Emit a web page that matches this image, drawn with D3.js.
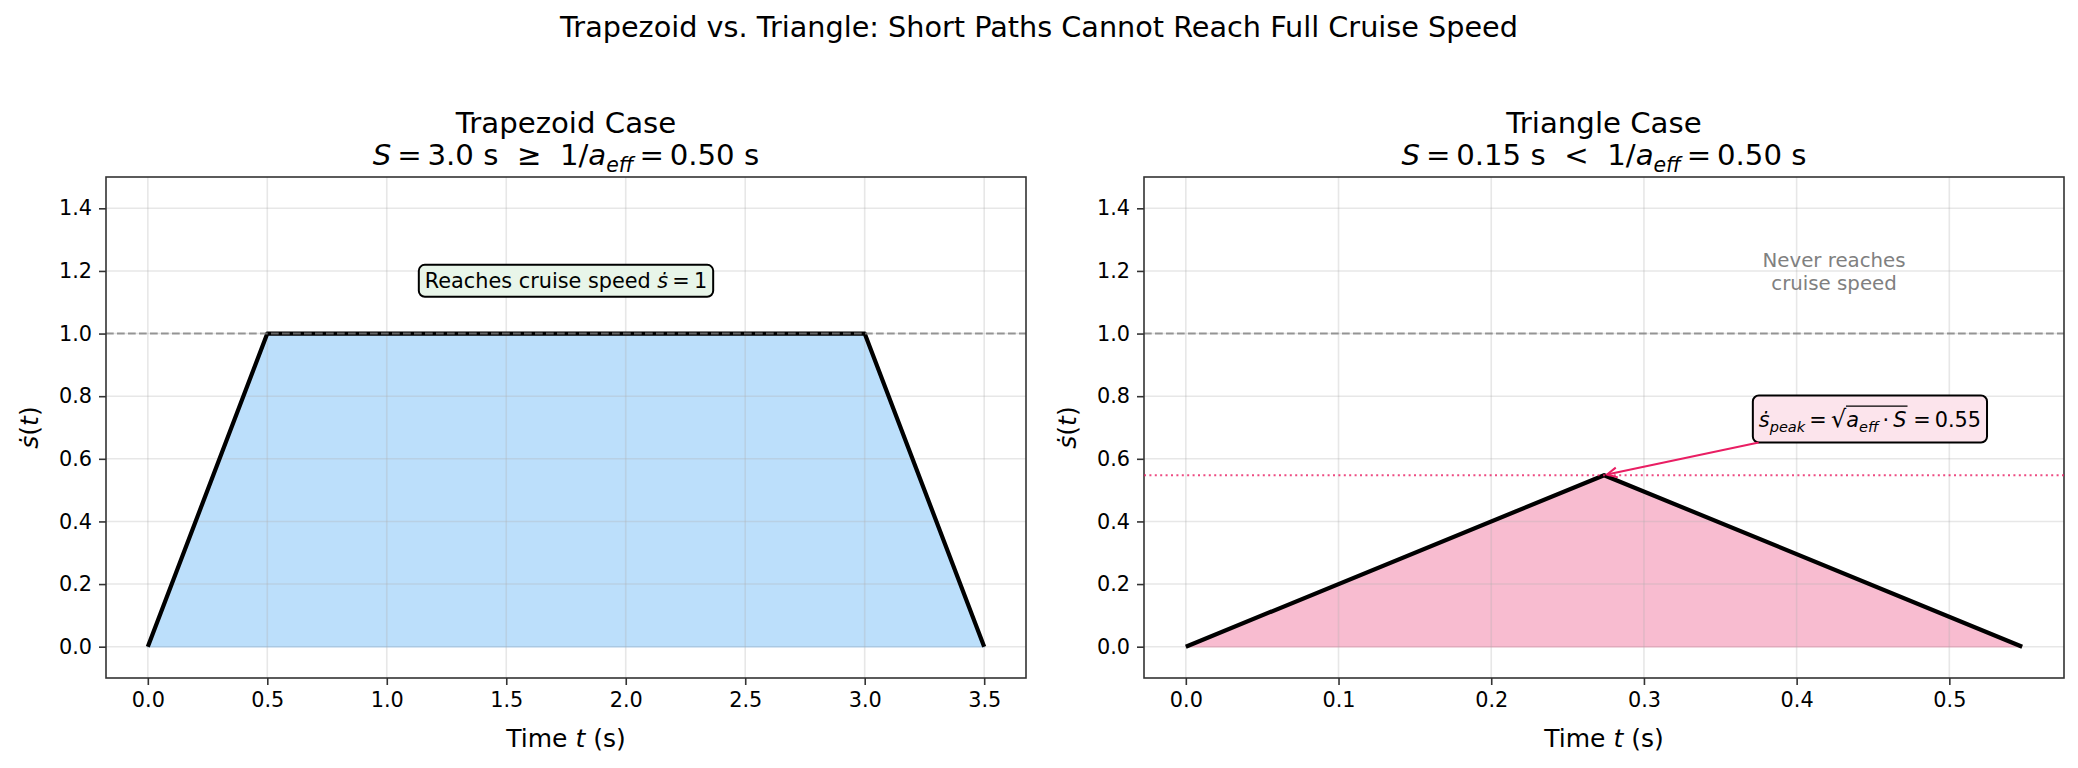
<!DOCTYPE html>
<html>
<head>
<meta charset="utf-8">
<script src="https://cdn.jsdelivr.net/npm/d3@7"></script>
<style>
  body { margin: 0; background: #fff; }
  text { font-family: 'DejaVu Sans', sans-serif; fill: #000; }
</style>
</head>
<body>
<div id="chart"></div>
<script>
// speed profiles
const trapTime = [0, 0.5, 3.0, 3.5];
const trapSpeed = [0, 1, 1, 0];
const triTime = [0, 0.2739, 0.5477];
const triSpeed = [0, 0.5477, 0];

const trapTicks = [0, 0.5, 1.0, 1.5, 2.0, 2.5, 3.0, 3.5];
const triTicks = [0, 0.1, 0.2, 0.3, 0.4, 0.5];
const speedTicks = [0, 0.2, 0.4, 0.6, 0.8, 1.0, 1.2, 1.4];

const cruiseSpeed = 1.0;
const peakSpeed = 0.5477;
const peakTime = 0.2739;

const W = 2078, H = 768;
const svg = d3.select("#chart").append("svg")
    .attr("width", W)
    .attr("height", H)

svg.append("text")
    .attr("x", W / 2).attr("y", 37)
    .attr("text-anchor", "middle")
    .attr("font-size", 28.7)
    .text("Trapezoid vs. Triangle: Short Paths Cannot Reach Full Cruise Speed")

// mixed roman / italic / subscript text, like matplotlib mathtext
function rich(parent, x, y, parts, size, anchor) {
    const t = parent.append("text")
        .attr("x", x).attr("y", y)
        .attr("font-size", size)
        .attr("text-anchor", anchor || "middle")
        .style("white-space", "pre")
    let shift = 0
    parts.forEach(p => {
        const sp = t.append("tspan").text(p.t)
        if (p.i) sp.attr("font-style", "italic")
        const target = p.sub ? size * 0.24 : 0
        if (target !== shift) { sp.attr("dy", target - shift); shift = target }
        if (p.sub) sp.attr("font-size", size * 0.7)
        if (p.scale) sp.attr("font-size", size * p.scale)
        if (p.cls) sp.attr("class", p.cls)
    })
    return t
}

const plotTop = 177, plotBottom = 678;
const y = d3.scaleLinear().domain([-0.1, 1.5]).range([plotBottom, plotTop]);
const eq = "\u2009=\u2009";

function panel(opts) {
    const x = d3.scaleLinear().domain(opts.xDomain).range([opts.left, opts.right]);
    const g = svg.append("g");

    // fill under profile
    const area = d3.area().x((d, i) => x(opts.t[i])).y0(y(0)).y1((d, i) => y(d));
    g.append("path")
        .attr("d", area(opts.v))
        .attr("fill", opts.fill).attr("fill-opacity", 0.6)
        .attr("stroke", opts.fill).attr("stroke-opacity", 0.6).attr("stroke-width", 1.5)

    // grid
    g.selectAll(".gx").data(opts.ticks).join("line")
        .attr("x1", d => x(d)).attr("x2", d => x(d))
        .attr("y1", plotTop).attr("y2", plotBottom)
        .attr("stroke", "#b0b0b0").attr("stroke-opacity", 0.3).attr("stroke-width", 1.6)
    g.selectAll(".gy").data(speedTicks).join("line")
        .attr("x1", opts.left).attr("x2", opts.right)
        .attr("y1", d => y(d)).attr("y2", d => y(d))
        .attr("stroke", "#b0b0b0").attr("stroke-opacity", 0.3).attr("stroke-width", 1.6)

    // profile line
    const line = d3.line().x((d, i) => x(opts.t[i])).y(d => y(d));
    g.append("path")
        .attr("d", line(opts.v))
        .attr("fill", "none").attr("stroke", "#000").attr("stroke-width", 4.2)
        .attr("stroke-linejoin", "round")

    // cruise speed reference
    g.append("line")
        .attr("x1", opts.left).attr("x2", opts.right)
        .attr("y1", y(cruiseSpeed)).attr("y2", y(cruiseSpeed))
        .attr("stroke", "gray").attr("stroke-opacity", 0.8).attr("stroke-width", 2)
        .attr("stroke-dasharray", "7.7,3.3")

    // axes
    const xAxis = g.append("g").attr("transform", `translate(0,${plotBottom})`)
        .call(d3.axisBottom(x).tickValues(opts.ticks).tickFormat(d3.format(opts.fmt)).tickSize(7).tickPadding(7));
    const yAxis = g.append("g").attr("transform", `translate(${opts.left},0)`)
        .call(d3.axisLeft(y).tickValues(speedTicks).tickFormat(d3.format(".1f")).tickSize(7).tickPadding(7));
    [xAxis, yAxis].forEach(a => {
        a.select(".domain").remove()
        a.selectAll("line").attr("stroke", "#333").attr("stroke-width", 1.6)
        a.selectAll("text").attr("font-size", 20.8).attr("font-family", "DejaVu Sans").attr("fill", "#000")
    })

    g.append("rect")
        .attr("x", opts.left).attr("y", plotTop)
        .attr("width", opts.right - opts.left).attr("height", plotBottom - plotTop)
        .attr("fill", "none").attr("stroke", "#333").attr("stroke-width", 1.6)

    const cx = (opts.left + opts.right) / 2;
    g.append("text")
        .attr("x", cx).attr("y", 133)
        .attr("text-anchor", "middle").attr("font-size", 29.2)
        .text(opts.title)
    rich(g, cx, 165, opts.subtitle, 29.2)

    rich(g, cx, 747, [{t: "Time "}, {t: "t", i: true}, {t: " (s)"}], 25)
    rich(g, 0, 0, [{t: "\u1E61", i: true}, {t: "("}, {t: "t", i: true}, {t: ")"}], 25)
        .attr("transform", `translate(${opts.left - 68},${(plotTop + plotBottom) / 2}) rotate(-90)`)

    return {g, x}
}

// left panel: trapezoid
const left = panel({
    left: 106, right: 1026,
    xDomain: [-0.175, 3.675],
    t: trapTime, v: trapSpeed,
    ticks: trapTicks, fmt: ".1f",
    fill: "#90CAF9",
    title: "Trapezoid Case",
    subtitle: [{t: "S", i: true}, {t: eq + "3.0 s  \u2265  1/"}, {t: "a", i: true}, {t: "eff", i: true, sub: true}, {t: eq + "0.50 s"}]
})

const boxL = rich(left.g, left.x(1.75), y(1.17) + 7.5,
    [{t: "Reaches cruise speed "}, {t: "\u1E61", i: true}, {t: eq + "1"}], 20.8)
const bb = boxL.node().getBBox()
left.g.insert("rect", () => boxL.node())
    .attr("x", bb.x - 6).attr("y", bb.y - 4)
    .attr("width", bb.width + 12).attr("height", bb.height + 8)
    .attr("rx", 6)
    .attr("fill", "#E8F5E9").attr("stroke", "#000").attr("stroke-width", 2)

// right panel: triangle
const right = panel({
    left: 1144, right: 2064,
    xDomain: [-0.02739, 0.57509],
    t: triTime, v: triSpeed,
    ticks: triTicks, fmt: ".1f",
    fill: "#F48FB1",
    title: "Triangle Case",
    subtitle: [{t: "S", i: true}, {t: eq + "0.15 s  <  1/"}, {t: "a", i: true}, {t: "eff", i: true, sub: true}, {t: eq + "0.50 s"}]
})

right.g.append("line")
    .attr("x1", 1144).attr("x2", 2064)
    .attr("y1", y(peakSpeed)).attr("y2", y(peakSpeed))
    .attr("stroke", "#E91E63").attr("stroke-opacity", 0.8).attr("stroke-width", 2)
    .attr("stroke-dasharray", "2,3.4")

const never = right.g.append("text")
    .attr("text-anchor", "middle").attr("font-size", 19.8)
    .style("fill", "gray")
never.append("tspan").attr("x", right.x(0.4245)).attr("y", y(1.2) - 4).text("Never reaches")
never.append("tspan").attr("x", right.x(0.4245)).attr("dy", 23.5).text("cruise speed")

// peak annotation
const annX = right.x(0.448), annY = y(0.727);
const boxR = rich(right.g, annX, annY + 8, [
    {t: "\u1E61", i: true}, {t: "peak", i: true, sub: true}, {t: eq},
    {t: "\u221A", scale: 1.15, cls: "rad"},
    {t: "a", i: true, cls: "radi"}, {t: "eff", i: true, sub: true, cls: "radi"},
    {t: "\u2009\u00B7\u2009", cls: "radi"}, {t: "S", i: true, cls: "radi"},
    {t: " =\u20090.55"}
], 20.8)
const rad = boxR.select(".rad").node().getBBox()
const radi = boxR.selectAll(".radi").nodes().map(n => n.getBBox())
const radEnd = d3.max(radi, b => b.x + b.width)
right.g.append("line")
    .attr("x1", rad.x + rad.width - 1).attr("x2", radEnd + 1)
    .attr("y1", annY + 8 - 21).attr("y2", annY + 8 - 21)
    .attr("stroke", "#000").attr("stroke-width", 1.3)
const bR = boxR.node().getBBox()
const rx0 = bR.x - 6, ry0 = annY - 23.5, rw = bR.width + 12, rh = 47
right.g.insert("rect", () => boxR.node())
    .attr("x", rx0).attr("y", ry0).attr("width", rw).attr("height", rh)
    .attr("rx", 6)
    .attr("fill", "#FCE4EC").attr("stroke", "#000").attr("stroke-width", 2)

// arrow from box edge to the peak
const px = right.x(peakTime), py = y(peakSpeed);
const dx = px - annX, dy = py - annY;
let s = Infinity;
if (dx !== 0) s = Math.min(s, Math.abs((dx < 0 ? rx0 - annX : rx0 + rw - annX) / dx));
if (dy !== 0) s = Math.min(s, Math.abs((dy < 0 ? ry0 - annY : ry0 + rh - annY) / dy));
const sx = annX + dx * s, sy = annY + dy * s;
const len = Math.hypot(px - sx, py - sy);
const ux = (px - sx) / len, uy = (py - sy) / len;
const ex = px - ux * 3, ey = py - uy * 3;
right.g.append("line")
    .attr("x1", sx).attr("y1", sy).attr("x2", ex).attr("y2", ey)
    .attr("stroke", "#E91E63").attr("stroke-width", 2)
const hl = 10, hw = 5;
right.g.append("path")
    .attr("d", `M${ex - ux * hl - uy * hw},${ey - uy * hl + ux * hw} L${ex},${ey} L${ex - ux * hl + uy * hw},${ey - uy * hl - ux * hw}`)
    .attr("fill", "none").attr("stroke", "#E91E63").attr("stroke-width", 2)
</script>
</body>
</html>
